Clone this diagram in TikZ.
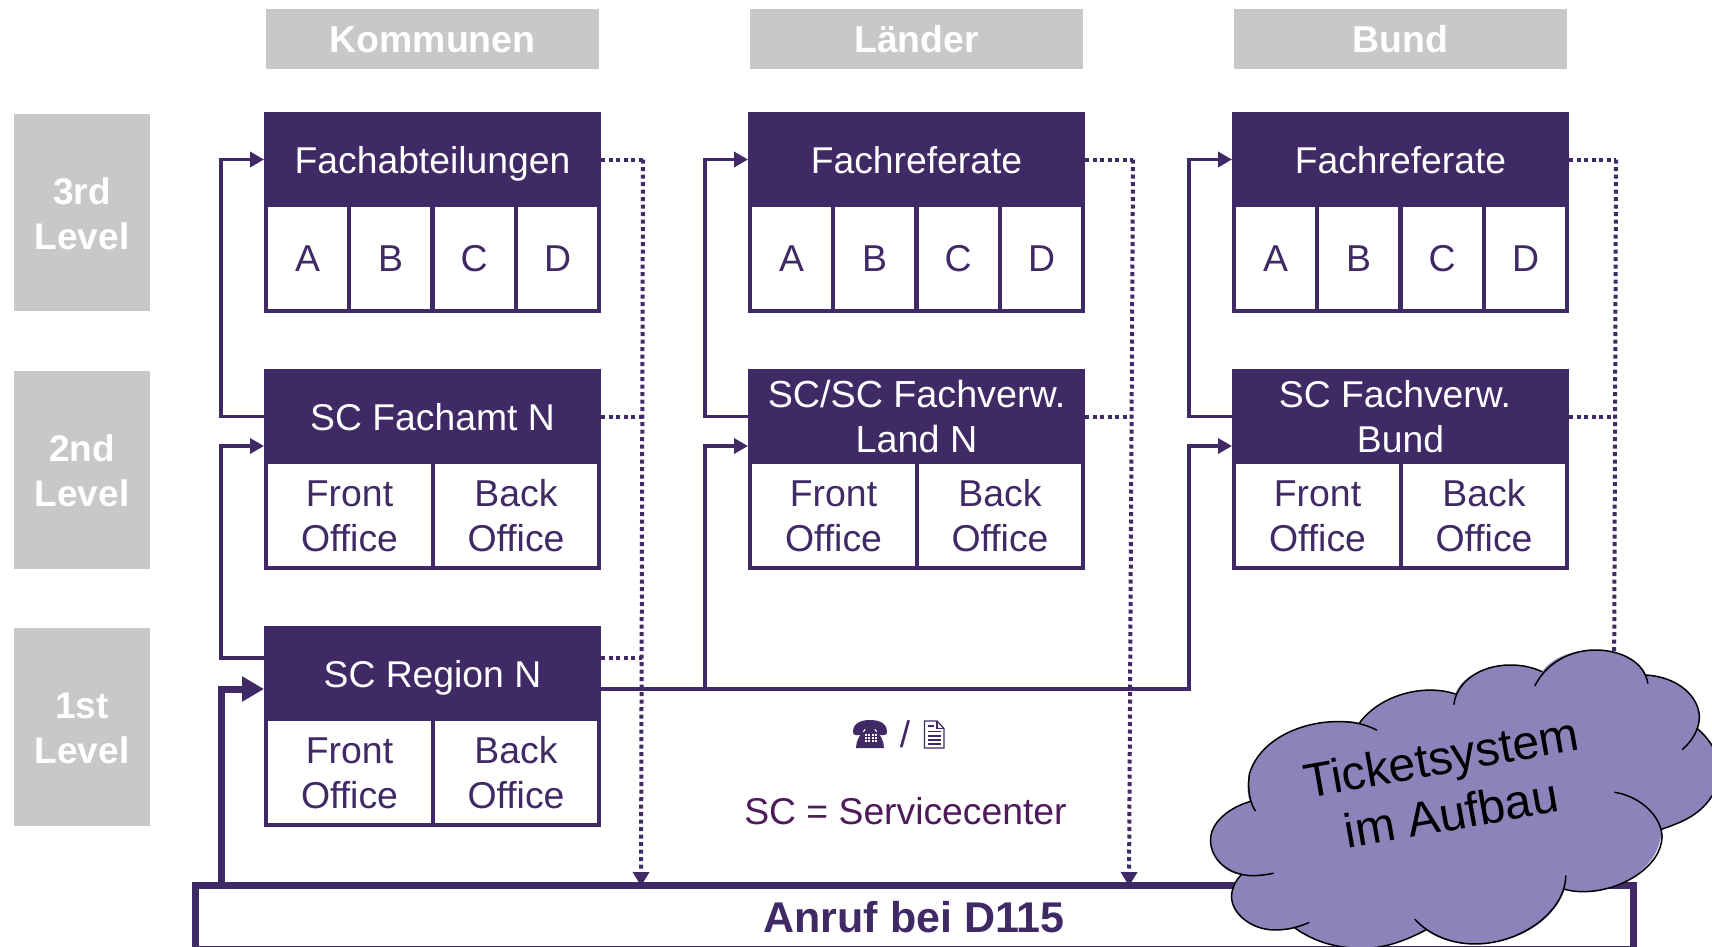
\documentclass[tikz,border=0pt]{standalone}
\usepackage{fontspec}
\setmainfont{Liberation Sans}
\usetikzlibrary{arrows.meta}
\definecolor{plum}{HTML}{3F2A66}
\definecolor{greybox}{HTML}{C8C8C8}
\definecolor{legend}{HTML}{4F1A5A}
\definecolor{cloudfill}{HTML}{8A84BA}
\newcommand\nudgedown{\rule{0pt}{29pt}}
\tikzset{
  x=1pt,y=-1pt,
  headbox/.style={fill=plum,text=white,font=\fontsize{37.3}{45}\selectfont,align=center,inner sep=0pt,outer sep=0pt,minimum width=337pt,minimum height=95pt},
  oneline/.style={text height=27pt,text depth=0pt},
  cell/.style={draw=plum,line width=4pt,fill=white,text=plum,font=\fontsize{37.4}{45}\selectfont,align=center,inner sep=0pt,outer sep=0pt,minimum height=106pt},
  cellfour/.style={cell,minimum width=83pt,text height=27.5pt,text depth=0pt},
  celltwo/.style={cell,minimum width=166.5pt},
  colhead/.style={fill=greybox,text=white,font=\bfseries\fontsize{37.4}{46}\selectfont,inner sep=0pt,minimum width=333pt,minimum height=60pt,oneline},
  levelbox/.style={fill=greybox,text=white,font=\bfseries\fontsize{37}{45}\selectfont,align=center,inner sep=0pt,minimum width=136pt,minimum height=198pt},
  thinline/.style={draw=plum,line width=3.8pt,line join=miter},
  thinarrow/.style={thinline,-{Triangle[length=14pt,width=15pt]}},
  thickarrow/.style={draw=plum,line width=7pt,-{Triangle[length=22pt,width=24pt]}},
  dots/.style={draw=plum,line width=4pt,dash pattern=on 4pt off 3.5pt},
  dotarrow/.style={dots,-{Triangle[length=14pt,width=16pt]}},
  cloudedge/.style={draw=black,line width=1.5pt,line cap=round},
}
\begin{document}
\begin{tikzpicture}
\useasboundingbox (0,0) rectangle (1712,946);
\fill[white] (0,0) rectangle (1712,946);
\begin{scope}
\clip (0,0) rectangle (1712,946);

% column and level captions
\node[colhead] (hk) at (432.5,39) {Kommunen};
\node[colhead] (hl) at (916.5,39) {Länder};
\node[colhead] (hb) at (1400.5,39) {Bund};
\node[levelbox,minimum height=197pt] (l3) at (82,212.5) {\nudgedown 3rd\\Level};
\node[levelbox] (l2) at (82,470) {\nudgedown 2nd\\Level};
\node[levelbox] (l1) at (82,727) {\nudgedown 1st\\Level};

% column 1
\node[headbox,oneline] (fa) at (432.5,159.5) {Fachabteilungen};
\node[cellfour] (fa1) at (307.5,258) {A};
\node[cellfour] (fa2) at (390.5,258) {B};
\node[cellfour] (fa3) at (474,258) {C};
\node[cellfour] (fa4) at (557.5,258) {D};
\node[headbox,oneline] (sa) at (432.5,416.5) {SC Fachamt N};
\node[celltwo] (sa1) at (349.5,515) {\nudgedown Front\\Office};
\node[celltwo] (sa2) at (516,515) {\nudgedown Back\\Office};
\node[headbox,oneline] (re) at (432.5,673.5) {SC Region N};
\node[celltwo] (re1) at (349.5,772) {\nudgedown Front\\Office};
\node[celltwo] (re2) at (516,772) {\nudgedown Back\\Office};

% column 2
\node[headbox,oneline] (fl) at (916.5,159.5) {Fachreferate};
\node[cellfour] (fl1) at (791.5,258) {A};
\node[cellfour] (fl2) at (874.5,258) {B};
\node[cellfour] (fl3) at (958,258) {C};
\node[cellfour] (fl4) at (1041.5,258) {D};
\node[headbox,font=\fontsize{37.7}{45}\selectfont] (sl) at (916.5,416.5) {SC/SC Fachverw.\\Land N};
\node[celltwo] (sl1) at (833.5,515) {\nudgedown Front\\Office};
\node[celltwo] (sl2) at (1000,515) {\nudgedown Back\\Office};

% column 3
\node[headbox,oneline] (fb) at (1400.5,159.5) {Fachreferate};
\node[cellfour] (fb1) at (1275.5,258) {A};
\node[cellfour] (fb2) at (1358.5,258) {B};
\node[cellfour] (fb3) at (1442,258) {C};
\node[cellfour] (fb4) at (1525.5,258) {D};
\node[headbox,font=\fontsize{37.3}{45}\selectfont] (sb) at (1400.5,416.5) {SC Fachverw.\hspace*{11pt}\\Bund};
\node[celltwo] (sb1) at (1317.5,515) {\nudgedown Front\\Office};
\node[celltwo] (sb2) at (1484,515) {\nudgedown Back\\Office};

% call box
\node[draw=plum,line width=7pt,fill=white,text=plum,font=\bfseries\fontsize{43}{50}\selectfont,inner sep=0pt,minimum width=1438pt,minimum height=64pt] (call) at (914,917.5) {Anruf bei D115};

% routing coordinates
\coordinate (busa) at (221,300);
\coordinate (busalow) at (221,550);
\coordinate (busl) at (705,300);
\coordinate (busb) at (1189,300);
\coordinate (tapl) at (705,689);
\coordinate (tapb) at (1189,689);
\coordinate (dota) at (643,159.5);
\coordinate (dotabot) at (641,886);
\coordinate (dotl) at (1133,159.5);
\coordinate (dotlbot) at (1129,886);
\coordinate (dotb) at (1616,159.5);
\coordinate (dotbbot) at (1614,700);
\coordinate (thick) at (221,689);

% dotted lines
\draw[dots] (fa.east) -- (dota);
\draw[dotarrow] (dota) -- (dotabot);
\draw[dots] (sa.east) -- (642.5,416.5);
\draw[dots] ([yshift=15.5pt]re.east) -- (642,658);
\draw[dots] (fl.east) -- (dotl);
\draw[dotarrow] (dotl) -- (dotlbot);
\draw[dots] (sl.east) -- (1131,416.5);
\draw[dots] (fb.east) -- (dotb);
\draw[dots] (dotb) -- (dotbbot);
\draw[dots] (sb.east) -- (1615,416.5);

% solid connectors
\draw[thinarrow] (sa.west) -| (busa) |- (fa.west);
\draw[thinarrow] ([yshift=15.5pt]re.west) -| (busalow) |- ([yshift=-29.5pt]sa.west);
\draw[thinarrow] (sl.west) -| (busl) |- (fl.west);
\draw[thinarrow] (sb.west) -| (busb) |- (fb.west);
\draw[thinarrow] ([yshift=-15.5pt]re.east) -- (tapb) |- ([yshift=-29.5pt]sb.west);
\draw[thinarrow] (tapl) |- ([yshift=-29.5pt]sl.west);
\draw[thickarrow] (thick |- call.north) |- ([yshift=-15.5pt]re.west);

% legend
\begin{scope}[fill=plum]
% handset
\fill (853,732) .. controls (853,723) and (861,720) .. (870,720)
 .. controls (879,720) and (887,723) .. (887,732)
 .. controls (887,734) and (886,735) .. (884,735)
 -- (879,735) .. controls (877,735) and (877,733) .. (877,731)
 .. controls (877,729) and (875,728.5) .. (870,728.5)
 .. controls (865,728.5) and (863,729) .. (863,731)
 .. controls (863,733) and (863,735) .. (861,735)
 -- (856,735) .. controls (854,735) and (853,734) .. (853,732) -- cycle;
% body
\fill (866,728) -- (874,728) -- (875,731) .. controls (880,733) and (884,741) .. (884,748)
 -- (856,748) .. controls (856,741) and (860,733) .. (865,731) -- cycle;
\foreach \kx in {865.5,869,872.5,876}{\foreach \ky in {734.5,737.5,740.5}{\fill[white] (\kx-1,\ky-1) rectangle (\kx+1,\ky+1);}}
\end{scope}
\node[text=plum,font=\fontsize{37}{37}\selectfont,inner sep=0pt] (slash) at (905,734) {/};
\begin{scope}[draw=plum,line width=1.2pt]
\draw (924.5,721) -- (937,721) -- (944,728.5) -- (944,748) -- (924.5,748) -- cycle;
\draw (937,721) -- (937,728.5) -- (944,728.5);
\draw[line width=1.4pt] (928,726) -- (934,726) (928,731.5) -- (941,731.5) (928,736) -- (941,736) (928,740) -- (941,740) (928,744) -- (941,744);
\end{scope}
\node[text=legend,font=\fontsize{37.3}{45}\selectfont,inner sep=0pt] (sclegend) at (905.5,811) {SC = Servicecenter};

% cloud
\begin{scope}[shift={(1180,620)},x=0.339pt,y=-0.3333pt]
\fill[cloudfill] (205,545) .. controls (197,515) and (197,485) .. (205,460)
 .. controls (240,350) and (370,305) .. (460,305)
 .. controls (485,303) and (510,303) .. (530,308)
 .. controls (590,225) and (720,190) .. (812,222)
 .. controls (830,170) and (900,135) .. (975,135)
 .. controls (1010,135) and (1040,142) .. (1068,155)
 .. controls (1100,110) and (1160,90) .. (1225,90)
 .. controls (1300,90) and (1360,125) .. (1372,165)
 .. controls (1470,170) and (1530,230) .. (1532,290)
 .. controls (1533,305) and (1530,315) .. (1525,325)
 .. controls (1590,380) and (1620,470) .. (1568,530)
 .. controls (1530,590) and (1470,610) .. (1420,628)
 .. controls (1420,740) and (1300,815) .. (1190,815)
 .. controls (1165,815) and (1150,812) .. (1135,808)
 .. controls (1105,900) and (1000,972) .. (870,972)
 .. controls (800,972) and (760,955) .. (725,930)
 .. controls (660,965) and (600,985) .. (540,985)
 .. controls (450,985) and (390,960) .. (340,925)
 .. controls (320,930) and (300,930) .. (280,930)
 .. controls (210,930) and (152,880) .. (152,830)
 .. controls (152,805) and (165,780) .. (182,763)
 .. controls (145,767) and (90,720) .. (90,660)
 .. controls (90,610) and (140,565) .. (205,545) -- cycle;
\draw[cloudedge] (222,572) .. controls (210,555) and (197,515) .. (205,460)
 .. controls (240,350) and (370,305) .. (460,305)
 .. controls (505,303) and (545,312) .. (580,330);
\draw[cloudedge] (530,308) .. controls (590,225) and (720,190) .. (812,222);
\draw[cloudedge] (808,253) .. controls (815,190) and (880,135) .. (975,135)
 .. controls (1010,135) and (1040,142) .. (1068,155);
\draw[cloudedge] (1047,197) .. controls (1080,130) and (1150,90) .. (1225,90)
 .. controls (1300,90) and (1370,125) .. (1380,190);
\draw[cloudedge] (1372,165) .. controls (1470,170) and (1530,230) .. (1532,290)
 .. controls (1533,325) and (1510,365) .. (1482,388);
\draw[cloudedge] (1525,325) .. controls (1590,380) and (1620,470) .. (1568,530)
 .. controls (1530,590) and (1470,610) .. (1420,628);
\draw[cloudedge] (1283,517) .. controls (1360,530) and (1420,590) .. (1422,650)
 .. controls (1420,740) and (1300,815) .. (1190,815)
 .. controls (1165,815) and (1150,812) .. (1135,808);
\draw[cloudedge] (1138,768) .. controls (1135,880) and (1000,972) .. (870,972)
 .. controls (800,972) and (735,945) .. (693,898);
\draw[cloudedge] (725,930) .. controls (660,965) and (600,985) .. (540,985)
 .. controls (450,985) and (390,960) .. (340,925);
\draw[cloudedge] (380,908) .. controls (340,925) and (310,930) .. (280,930)
 .. controls (210,930) and (152,880) .. (152,830)
 .. controls (152,805) and (165,780) .. (182,763);
\draw[cloudedge] (275,760) .. controls (250,765) and (230,767) .. (215,767)
 .. controls (145,767) and (90,720) .. (90,660)
 .. controls (90,610) and (140,565) .. (205,545);
\end{scope}
\node[text=black,rotate=10,font=\fontsize{48}{57}\selectfont,align=center,inner sep=0pt] (ticket) at (1446,785) {Ticketsystem\\im Aufbau};
\end{scope}
\end{tikzpicture}
\end{document}
